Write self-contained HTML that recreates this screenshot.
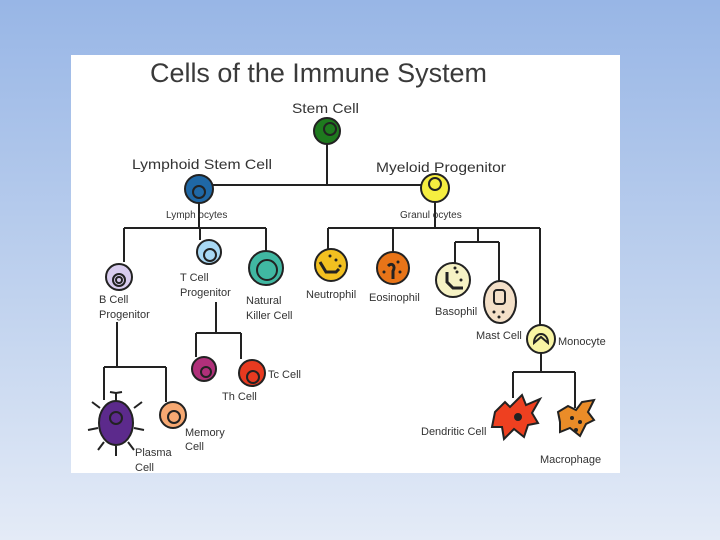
<!DOCTYPE html>
<html><head><meta charset="utf-8"><style>
html,body{margin:0;padding:0;width:720px;height:540px;overflow:hidden;background:linear-gradient(#98b6e6,#c4d5ef 60%,#e4ebf7);}
svg{position:absolute;left:0;top:0}
text{font-family:"Liberation Sans",sans-serif;fill:#333;font-size:11px}
</style></head><body>
<svg width="720" height="540" viewBox="0 0 720 540">
<rect x="71" y="55" width="549" height="418" fill="#fff"/>
<text x="150" y="82" textLength="337" lengthAdjust="spacingAndGlyphs" style="font-size:27px;fill:#3a3a3a">Cells of the Immune System</text>
<g stroke="#222" stroke-width="2" fill="none">
<path d="M327 140V185M199 185H435"/>
<path d="M199 200V228M124 228H266M124 228V262M200 228V240M266 228V252"/>
<path d="M216 302V333M196 333H241M196 333V357M241 333V359"/>
<path d="M117 322V367M104 367H166M104 367V400M166 367V402"/>
<path d="M435 200V228M328 228H540M328 228V250M393 228V252M478 228V242M455 242H499M455 242V263M499 242V282M540 228V325"/>
<path d="M541 353V372M513 372H575M513 372V398M575 372V408"/>
</g>
<g stroke="#222" stroke-width="2">
<circle cx="327" cy="131" r="13" fill="#1e7a1e"/><circle cx="330" cy="129" r="6" fill="none"/>
<circle cx="199" cy="189" r="14" fill="#1f68a6"/><circle cx="199" cy="192" r="6" fill="none"/>
<circle cx="435" cy="188" r="14" fill="#f6ee40"/><circle cx="435" cy="184" r="6" fill="none"/>
<circle cx="119" cy="277" r="13" fill="#d8ccee"/><circle cx="119" cy="280" r="6" fill="none"/><circle cx="119" cy="280" r="3" fill="none"/>
<circle cx="209" cy="252" r="12" fill="#a8d8f4"/><circle cx="210" cy="255" r="6" fill="none"/>
<circle cx="266" cy="268" r="17" fill="#40b8a2"/><circle cx="267" cy="270" r="10" fill="none"/>
<circle cx="204" cy="369" r="12" fill="#b0307a"/><circle cx="206" cy="372" r="5" fill="none"/>
<circle cx="252" cy="373" r="13" fill="#e83a20"/><circle cx="253" cy="377" r="6" fill="none"/>
<circle cx="173" cy="415" r="13" fill="#f6a872"/><circle cx="174" cy="417" r="6" fill="none"/>
<ellipse cx="116" cy="423" rx="17" ry="22" fill="#5c2a8c"/><circle cx="116" cy="418" r="6" fill="none"/>
<path d="M116 401v-8m-6-1l6 1 6-1M100 408l-8-6M134 408l8-6M98 428l-10 2M134 428l10 2M104 442l-6 8M128 442l6 8M116 446v10" fill="none"/>
<circle cx="331" cy="265" r="16" fill="#f2c020"/><path d="M320 262l6 10h10l3-3" fill="none" stroke-width="3"/>
<circle cx="393" cy="268" r="16" fill="#e87418"/><path d="M388 266c4-4 8 0 5 5v8" fill="none" stroke-width="3"/>
<circle cx="453" cy="280" r="17" fill="#f6f2c4"/><path d="M447 272v10l6 6h10" fill="none" stroke-width="3"/>
<ellipse cx="500" cy="302" rx="16" ry="21" fill="#f4e0c8"/><rect x="494" y="290" width="11" height="14" rx="3" fill="none"/>
<circle cx="541" cy="339" r="14" fill="#f8f4a4"/><path d="M534 343c0-12 14-12 14 0l-7-6z" fill="none"/>
<path d="M495 412l10-10 5 5 12-12 4 10 14-6-8 14 6 10-10 2-4 12-10-8-10 10-2-12-10 0z" fill="#ee4020"/><circle cx="518" cy="417" r="3" fill="#222"/>
<path d="M558 412l10-6 8 4 6-8 12-2-6 12 6 8-8 4-6 12-10-8-10 4 0-10z" fill="#ea8c28"/>
</g>
<g fill="#222">
<circle cx="336" cy="260" r="1.5"/><circle cx="340" cy="266" r="1.5"/><circle cx="330" cy="256" r="1.5"/>
<circle cx="398" cy="262" r="1.5"/><circle cx="384" cy="272" r="1.5"/><circle cx="400" cy="272" r="1.5"/>
<circle cx="457" cy="272" r="1.5"/><circle cx="461" cy="280" r="1.5"/><circle cx="455" cy="268" r="1.5"/>
<circle cx="494" cy="312" r="1.5"/><circle cx="503" cy="312" r="1.5"/><circle cx="499" cy="317" r="1.5"/>
<circle cx="572" cy="418" r="2"/><circle cx="580" cy="422" r="2"/><circle cx="576" cy="430" r="2"/>
</g>
<text x="292" y="113" textLength="67" lengthAdjust="spacingAndGlyphs" style="font-size:14px">Stem Cell</text>
<text x="132" y="169" textLength="140" lengthAdjust="spacingAndGlyphs" style="font-size:14px">Lymphoid Stem Cell</text>
<text x="376" y="172" textLength="130" lengthAdjust="spacingAndGlyphs" style="font-size:14px">Myeloid Progenitor</text>
<text x="166" y="218" style="font-size:10px">Lymph ocytes</text>
<text x="400" y="218" style="font-size:10px">Granul ocytes</text>
<text x="99" y="303">B Cell</text><text x="99" y="318">Progenitor</text>
<text x="180" y="281">T Cell</text><text x="180" y="296">Progenitor</text>
<text x="246" y="304">Natural</text><text x="246" y="319">Killer Cell</text>
<text x="306" y="298">Neutrophil</text>
<text x="369" y="301">Eosinophil</text>
<text x="435" y="315">Basophil</text>
<text x="476" y="339">Mast Cell</text>
<text x="558" y="345">Monocyte</text>
<text x="222" y="400">Th Cell</text>
<text x="268" y="378">Tc Cell</text>
<text x="185" y="436">Memory</text><text x="185" y="450">Cell</text>
<text x="135" y="456">Plasma</text><text x="135" y="471">Cell</text>
<text x="421" y="435">Dendritic Cell</text>
<text x="540" y="463">Macrophage</text>
</svg>
</body></html>
